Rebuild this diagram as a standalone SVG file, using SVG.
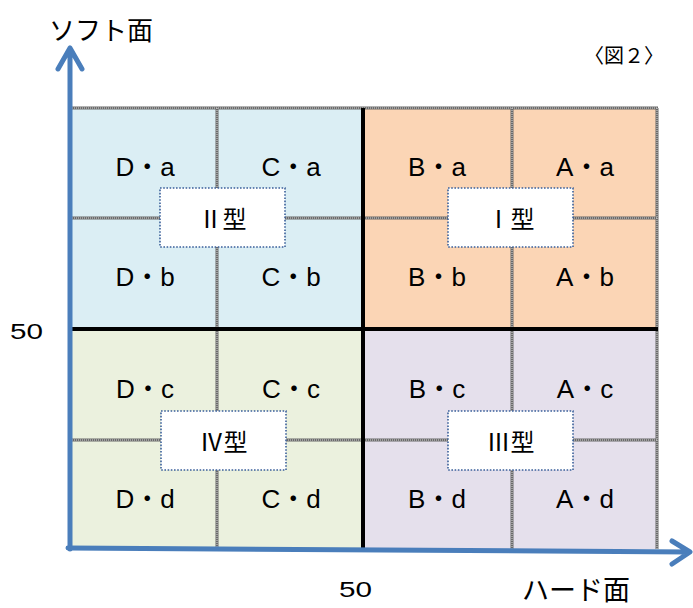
<svg xmlns="http://www.w3.org/2000/svg" width="693" height="608" viewBox="0 0 693 608">
<style>
text{font-family:"Noto Sans CJK JP","Liberation Sans",sans-serif;fill:#000;}
.cell{font-family:"Liberation Sans","Noto Sans CJK JP",sans-serif;font-size:26px;text-anchor:middle;dominant-baseline:central;}
.type{font-size:24px;text-anchor:middle;dominant-baseline:central;}
.tbox{fill:#fff;stroke:#3a5f9a;stroke-width:1.6;stroke-dasharray:1.6 1.6;}
.grid{stroke:#6a6a6a;stroke-width:3;fill:none;}
.gridhi{stroke:#d8d8d8;stroke-width:1;stroke-dasharray:1 1;fill:none;}
.thick{stroke:#000;stroke-width:4;fill:none;}
.axis{stroke:#4a7ebb;stroke-width:5;fill:none;stroke-linecap:round;stroke-linejoin:round;}
.lbl{font-size:26px;}
.num{font-family:"Liberation Sans",sans-serif;font-size:22px;}
</style>
<rect width="693" height="608" fill="#fff"/>
<g id="quadrants">
<rect id="q2" x="72" y="108" width="291" height="221" fill="#dbeef4"/>
<rect id="q1" x="363" y="108" width="295" height="221" fill="#fbd5b5"/>
<rect id="q4" x="72" y="329" width="291" height="220" fill="#ebf1de"/>
<rect id="q3" x="363" y="329" width="295" height="220" fill="#e5e0ec"/>
</g>
<g id="gridlines">
<path class="grid" d="M72 108H658M657 108V549M217 108V549M512 108V549M72 218H658M72 440H658"/>
<path class="gridhi" d="M72 108H658M657 108V549M217 108V549M512 108V549M72 218H658M72 440H658"/>
<path class="thick" d="M363 108V549M72 329H658"/>
</g>
<g id="cells">
<g id="cell-Da"><text class="cell" x="145" y="167">D・a</text></g>
<g id="cell-Ca"><text class="cell" x="291" y="167">C・a</text></g>
<g id="cell-Ba"><text class="cell" x="437" y="167">B・a</text></g>
<g id="cell-Aa"><text class="cell" x="585" y="167">A・a</text></g>
<g id="cell-Db"><text class="cell" x="145" y="277">D・b</text></g>
<g id="cell-Cb"><text class="cell" x="291" y="277">C・b</text></g>
<g id="cell-Bb"><text class="cell" x="437" y="277">B・b</text></g>
<g id="cell-Ab"><text class="cell" x="585" y="277">A・b</text></g>
<g id="cell-Dc"><text class="cell" x="145" y="389">D・c</text></g>
<g id="cell-Cc"><text class="cell" x="291" y="389">C・c</text></g>
<g id="cell-Bc"><text class="cell" x="437" y="389">B・c</text></g>
<g id="cell-Ac"><text class="cell" x="585" y="389">A・c</text></g>
<g id="cell-Dd"><text class="cell" x="145" y="499">D・d</text></g>
<g id="cell-Cd"><text class="cell" x="291" y="499">C・d</text></g>
<g id="cell-Bd"><text class="cell" x="437" y="499">B・d</text></g>
<g id="cell-Ad"><text class="cell" x="585" y="499">A・d</text></g>
</g>
<g id="type2"><rect class="tbox" x="160" y="188" width="125" height="59"/><text class="type" x="222.5" y="217">Ⅱ型</text></g>
<g id="type1"><rect class="tbox" x="448" y="188" width="125" height="59"/><text class="type" x="510.5" y="217">Ⅰ型</text></g>
<g id="type4"><rect class="tbox" x="161" y="411" width="125" height="59"/><text class="type" x="223.5" y="440">Ⅳ型</text></g>
<g id="type3"><rect class="tbox" x="448" y="411" width="125" height="59"/><text class="type" x="510.5" y="440">Ⅲ型</text></g>
<g id="connectors">
<path class="axis" d="M70 549V48M58 69L70 48L82 69"/>
<path class="axis" d="M68 548L690 552M672 541L690 552L672 564"/>
</g>
<g id="labels">
<text class="lbl" x="49" y="40">ソフト面</text>
<text class="lbl" x="522" y="600" style="font-size:27px">ハード面</text>
<text x="584" y="63" style="font-size:20px">〈図２〉</text>
<text class="num" x="10" y="339" textLength="33" lengthAdjust="spacingAndGlyphs">50</text>
<text class="num" x="339" y="597" textLength="33" lengthAdjust="spacingAndGlyphs">50</text>
</g>
</svg>
